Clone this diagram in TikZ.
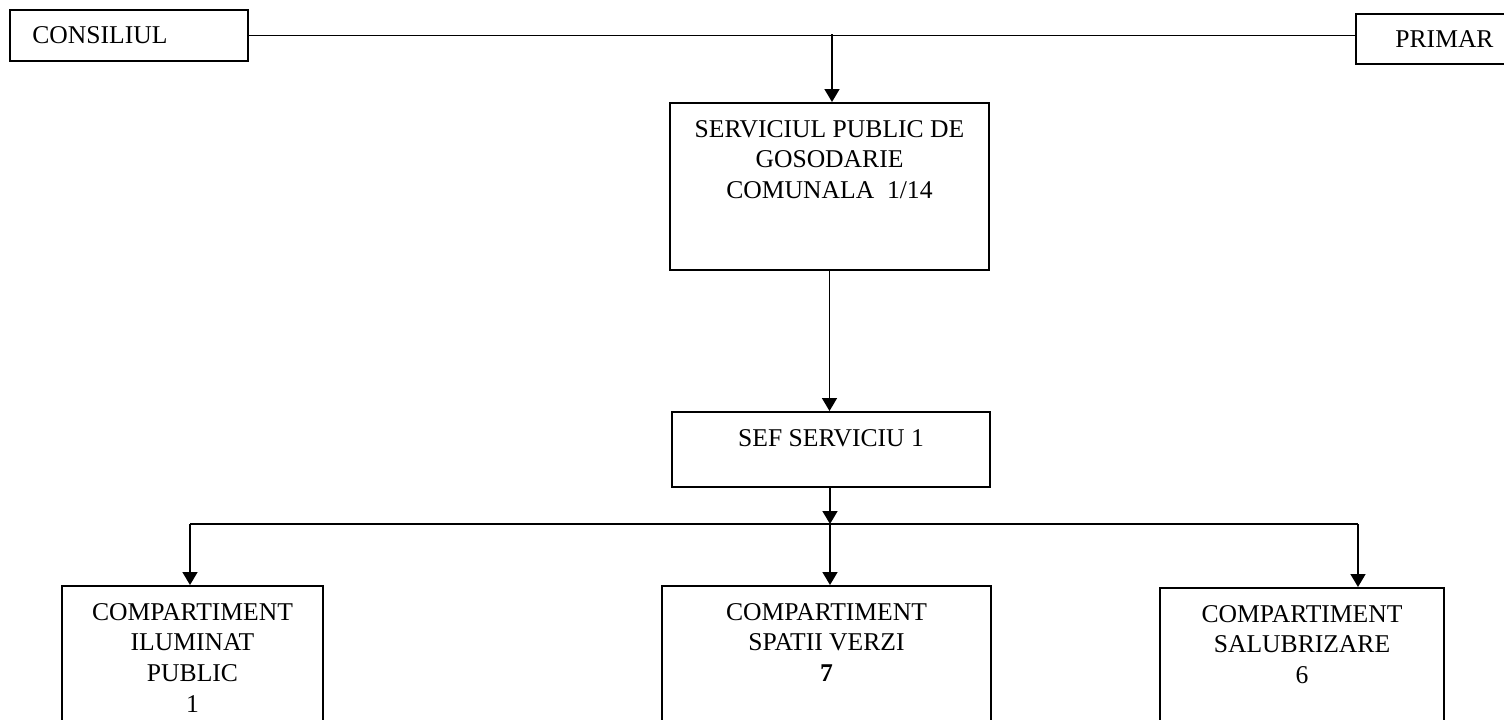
\documentclass[tikz,border=0pt]{standalone}
\usepackage{fontspec}
\setmainfont{Liberation Serif}
\usepackage{tikz}
\usetikzlibrary{positioning,arrows.meta}

\tikzset{
  box/.style={draw, line width=1pt, inner sep=0pt, anchor=north west},
  txt/.style={align=center, inner sep=0pt, font={\fontsize{12.8}{15.3}\selectfont}},
  conn/.style={line width=0.8pt}
}

\begin{document}
\begin{tikzpicture}[x=0.5pt, y=-0.5pt, >={Triangle[width=7.5pt,length=6.5pt]}]
    \useasboundingbox (0,0) rectangle (1504,719);
    \clip (0,0) rectangle (1504,719);

    % Consiliul and Primar
    \node[box, minimum width=119pt, minimum height=25.5pt] (cons) at (9,9) {};
    \node[txt, right=11.5pt of cons.west, anchor=west] {CONSILIUL};
    \node[box, minimum width=78.5pt, minimum height=25pt] (primar) at (1355,13) {};
    \node[txt, right=20pt of primar.west, anchor=west] {PRIMAR};
    \draw[conn] (cons.east) -- (primar.west |- cons.east);

    % Serviciul public
    \node[box, minimum width=159.5pt, minimum height=83.5pt] (spgc) at (669,102) {};
    \node[txt, below=9pt of spgc.north] {SERVICIUL PUBLIC DE\\GOSODARIE\\COMUNALA\ \ 1/14};
    \coordinate (split) at (832,34);
    \draw[conn, ->] (split) -- (split |- spgc.north);

    % Sef serviciu
    \node[box, minimum width=159pt, minimum height=37.5pt] (sef) at (671,411) {};
    \node[txt, below=9pt of sef.north] {SEF SERVICIU 1};
    \draw[conn, ->] (spgc.south) -- (sef.north -| spgc.south);

    % Compartimente
    \node[box, minimum width=130.5pt, minimum height=100pt] (ilum) at (61,585) {};
    \node[txt, below=9pt of ilum.north] {COMPARTIMENT\\ILUMINAT\\PUBLIC\\1};
    \node[box, minimum width=164.5pt, minimum height=100pt] (verzi) at (661,585) {};
    \node[txt, below=9pt of verzi.north] {COMPARTIMENT\\SPATII VERZI\\\textbf{7}};
    \node[box, minimum width=142pt, minimum height=100pt] (salub) at (1159,587) {};
    \node[txt, below=9pt of salub.north] {COMPARTIMENT\\SALUBRIZARE\\6};

    % Distribution line
    \coordinate (bus) at (830,524);
    \coordinate (busL) at (190,524);
    \coordinate (busR) at (1358,524);
    \draw[conn, ->] (sef.south -| bus) -- (bus);
    \draw[conn] (busL) -- (busR);
    \draw[conn, ->] (busL) -- (busL |- ilum.north);
    \draw[conn, ->] (bus) -- (bus |- verzi.north);
    \draw[conn, ->] (busR) -- (busR |- salub.north);
\end{tikzpicture}
\end{document}
